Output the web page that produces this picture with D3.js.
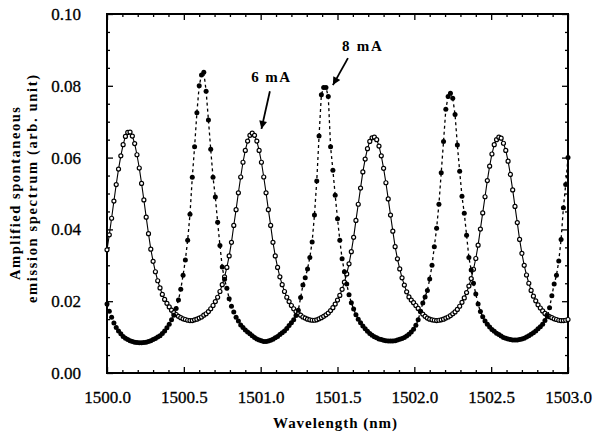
<!DOCTYPE html>
<html><head><meta charset="utf-8">
<script src="https://cdn.jsdelivr.net/npm/d3@7/dist/d3.min.js"></script>
<style>body{margin:0;background:#fff}svg{display:block}</style>
</head><body>
<svg id="chart" width="597" height="435"></svg>
<script>
// ---- data (wavelength grid: start + index * step, in nm) ----
const wlStart = 1500.0;
const wlStep = 0.015;

// 6 mA : open circles, solid line
const open6mA = [
0.0343,0.0385,0.0431,0.0479,0.0525,0.0568,0.0605,0.0636,0.0659,0.0670,
0.0671,0.0660,0.0639,0.0608,0.0571,0.0528,0.0482,0.0434,0.0388,0.0345,
0.0311,0.0282,0.0257,0.0237,0.0219,0.0205,0.0194,0.0184,0.0175,0.0168,
0.0163,0.0158,0.0154,0.0151,0.0149,0.0147,0.0146,0.0146,0.0148,0.0150,
0.0153,0.0156,0.0161,0.0165,0.0171,0.0179,0.0188,0.0199,0.0211,0.0227,
0.0246,0.0268,0.0294,0.0326,0.0364,0.0411,0.0455,0.0502,0.0546,0.0587,
0.0620,0.0646,0.0662,0.0668,0.0662,0.0646,0.0620,0.0587,0.0546,0.0502,
0.0455,0.0411,0.0364,0.0326,0.0294,0.0268,0.0246,0.0227,0.0211,0.0199,
0.0188,0.0179,0.0171,0.0165,0.0161,0.0156,0.0153,0.0150,0.0148,0.0147,
0.0147,0.0148,0.0151,0.0154,0.0158,0.0162,0.0167,0.0174,0.0182,0.0192,
0.0203,0.0216,0.0233,0.0253,0.0276,0.0304,0.0338,0.0378,0.0425,0.0470,
0.0515,0.0560,0.0596,0.0625,0.0645,0.0655,0.0657,0.0650,0.0632,0.0605,
0.0570,0.0530,0.0485,0.0440,0.0395,0.0352,0.0318,0.0290,0.0265,0.0245,
0.0226,0.0212,0.0203,0.0196,0.0188,0.0180,0.0171,0.0164,0.0158,0.0153,
0.0150,0.0148,0.0147,0.0146,0.0147,0.0148,0.0150,0.0153,0.0156,0.0160,
0.0165,0.0170,0.0177,0.0186,0.0197,0.0209,0.0224,0.0242,0.0263,0.0289,
0.0319,0.0356,0.0401,0.0446,0.0491,0.0536,0.0576,0.0610,0.0636,0.0650,
0.0657,0.0654,0.0640,0.0620,0.0590,0.0553,0.0510,0.0464,0.0419,0.0372,
0.0333,0.0300,0.0273,0.0250,0.0230,0.0214,0.0201,0.0190,0.0181,0.0173,
0.0166,0.0161,0.0157,0.0154,0.0151,0.0149,0.0147,0.0146,0.0146,0.0147,
0.0149
];

// 8 mA : filled circles, dashed line
const filled8mA = [
0.0192,0.0172,0.0155,0.0139,0.0127,0.0117,0.0109,0.0102,0.0097,0.0093,
0.0090,0.0088,0.0086,0.0085,0.0084,0.0084,0.0085,0.0086,0.0088,0.0090,
0.0093,0.0096,0.0100,0.0104,0.0110,0.0117,0.0126,0.0136,0.0148,0.0161,
0.0180,0.0203,0.0233,0.0272,0.0315,0.0370,0.0442,0.0545,0.0630,0.0725,
0.0800,0.0830,0.0838,0.0785,0.0705,0.0623,0.0545,0.0490,0.0420,0.0355,
0.0295,0.0261,0.0236,0.0207,0.0186,0.0170,0.0155,0.0145,0.0134,0.0127,
0.0120,0.0114,0.0109,0.0104,0.0099,0.0095,0.0092,0.0090,0.0088,0.0088,
0.0089,0.0091,0.0094,0.0098,0.0102,0.0107,0.0112,0.0117,0.0124,0.0132,
0.0140,0.0148,0.0160,0.0175,0.0210,0.0245,0.0265,0.0290,0.0322,0.0365,
0.0440,0.0535,0.0660,0.0775,0.0795,0.0795,0.0770,0.0630,0.0565,0.0495,
0.0430,0.0370,0.0318,0.0282,0.0248,0.0218,0.0196,0.0178,0.0162,0.0150,
0.0140,0.0131,0.0123,0.0116,0.0110,0.0105,0.0101,0.0098,0.0095,0.0093,
0.0091,0.0090,0.0089,0.0089,0.0089,0.0090,0.0092,0.0094,0.0096,0.0099,
0.0103,0.0108,0.0114,0.0122,0.0133,0.0148,0.0172,0.0195,0.0212,0.0230,
0.0262,0.0300,0.0352,0.0403,0.0470,0.0558,0.0645,0.0735,0.0770,0.0779,
0.0765,0.0720,0.0635,0.0562,0.0492,0.0445,0.0384,0.0322,0.0287,0.0250,
0.0220,0.0192,0.0171,0.0157,0.0145,0.0136,0.0128,0.0121,0.0116,0.0111,
0.0107,0.0103,0.0099,0.0097,0.0095,0.0093,0.0092,0.0092,0.0092,0.0093,
0.0095,0.0097,0.0100,0.0104,0.0108,0.0112,0.0117,0.0123,0.0129,0.0136,
0.0146,0.0158,0.0182,0.0215,0.0248,0.0272,0.0312,0.0372,0.0460,0.0525,
0.0600
];

const xTickValues = [1500.0, 1500.5, 1501.0, 1501.5, 1502.0, 1502.5, 1503.0];
const yTickValues = [0.00, 0.02, 0.04, 0.06, 0.08, 0.10];
const xTitle = "Wavelength  (nm)";
const yTitleLines = ["Amplified spontaneous", "emission spectrum (arb. unit)"];
const labels = ["6  mA", "8  mA"];

// ---- layout ----
const svg = d3.select("#chart");
const L = 107, R = 568, T = 14, B = 373;
const x = d3.scaleLinear().domain([1500, 1503]).range([L, R]);
const y = d3.scaleLinear().domain([0, 0.10]).range([B, T]);
const wl = i => wlStart + i * wlStep;
const serif = "'Liberation Serif','Times New Roman',serif";

// minor tick values
const xMinor = d3.range(0, 31).map(k => 1500 + k * 0.1).filter(v => Math.abs(((v - 1500) / 0.5) - Math.round((v - 1500) / 0.5)) > 1e-6);
const yMinor = d3.range(0, 21).map(k => k * 0.005).filter(v => Math.abs(v / 0.02 - Math.round(v / 0.02)) > 1e-6);

function styleAxis(g) {
  g.select(".domain").remove();
  g.selectAll("line").attr("stroke", "#000").attr("stroke-width", 1.3);
  g.selectAll("text").attr("font-family", serif).attr("font-size", 17).attr("fill", "#000")
    .attr("stroke", "#000").attr("stroke-width", 0.3);
}

// bottom
svg.append("g").attr("transform", `translate(0,${B})`)
  .call(d3.axisBottom(x).tickValues(xTickValues).tickSizeInner(-6).tickSizeOuter(0).tickPadding(18).tickFormat(d3.format(".1f")))
  .call(styleAxis);
svg.append("g").attr("transform", `translate(0,${B})`)
  .call(d3.axisBottom(x).tickValues(xMinor).tickSizeInner(-3).tickSizeOuter(0).tickFormat(""))
  .call(styleAxis);
// top
svg.append("g").attr("transform", `translate(0,${T})`)
  .call(d3.axisTop(x).tickValues(xTickValues).tickSizeInner(-6).tickSizeOuter(0).tickFormat(""))
  .call(styleAxis);
svg.append("g").attr("transform", `translate(0,${T})`)
  .call(d3.axisTop(x).tickValues(xMinor).tickSizeInner(-3).tickSizeOuter(0).tickFormat(""))
  .call(styleAxis);
// left
svg.append("g").attr("transform", `translate(${L},0)`)
  .call(d3.axisLeft(y).tickValues(yTickValues).tickSizeInner(-6).tickSizeOuter(0).tickPadding(26).tickFormat(d3.format(".2f")))
  .call(styleAxis);
svg.append("g").attr("transform", `translate(${L},0)`)
  .call(d3.axisLeft(y).tickValues(yMinor).tickSizeInner(-3).tickSizeOuter(0).tickFormat(""))
  .call(styleAxis);
// right
svg.append("g").attr("transform", `translate(${R},0)`)
  .call(d3.axisRight(y).tickValues(yTickValues).tickSizeInner(-6).tickSizeOuter(0).tickFormat(""))
  .call(styleAxis);
svg.append("g").attr("transform", `translate(${R},0)`)
  .call(d3.axisRight(y).tickValues(yMinor).tickSizeInner(-3).tickSizeOuter(0).tickFormat(""))
  .call(styleAxis);

// frame
svg.append("rect").attr("x", L).attr("y", T).attr("width", R - L).attr("height", B - T)
  .attr("fill", "none").attr("stroke", "#000").attr("stroke-width", 2);

// titles
svg.append("text").attr("x", 335).attr("y", 428).attr("text-anchor", "middle")
  .attr("font-family", serif).attr("font-weight", "bold").attr("font-size", 15)
  .attr("textLength", 124).attr("lengthAdjust", "spacing").text(xTitle);
const yTitlePos = [{bx: 20, cy: 193.5, len: 173}, {bx: 37, cy: 189, len: 228}];
yTitleLines.forEach((t, k) => {
  svg.append("text")
    .attr("transform", `translate(${yTitlePos[k].bx},${yTitlePos[k].cy}) rotate(-90)`)
    .attr("text-anchor", "middle")
    .attr("font-family", serif).attr("font-weight", "bold").attr("font-size", 14.5)
    .attr("textLength", yTitlePos[k].len).attr("lengthAdjust", "spacing").text(t);
});

// series
const line = d3.line().x((d, i) => x(wl(i))).y(d => y(d));
svg.append("path").datum(open6mA).attr("d", line)
  .attr("fill", "none").attr("stroke", "#000").attr("stroke-width", 1.1);
svg.append("path").datum(filled8mA).attr("d", line)
  .attr("fill", "none").attr("stroke", "#000").attr("stroke-width", 1.3).attr("stroke-dasharray", "3,3");

svg.append("g").selectAll("circle").data(open6mA).join("circle")
  .attr("cx", (d, i) => x(wl(i))).attr("cy", d => y(d)).attr("r", 2.0)
  .attr("fill", "#fff").attr("stroke", "#000").attr("stroke-width", 1.2);
svg.append("g").selectAll("circle").data(filled8mA).join("circle")
  .attr("cx", (d, i) => x(wl(i))).attr("cy", d => y(d)).attr("r", 2.5)
  .attr("fill", "#000");

// annotations (placed in data coordinates)
svg.append("defs").append("marker").attr("id", "ah")
  .attr("viewBox", "0 0 10 10").attr("refX", 10).attr("refY", 5)
  .attr("markerWidth", 11).attr("markerHeight", 8).attr("markerUnits", "userSpaceOnUse")
  .attr("orient", "auto").append("path").attr("d", "M0,0 L10,5 L0,10 Z").attr("fill", "#000");

const ann = [
  {text: labels[0], tx: 1500.938, ty: 0.0811, len: 39, ax1: 1501.060, ay1: 0.0785, ax2: 1501.005, ay2: 0.0680},
  {text: labels[1], tx: 1501.529, ty: 0.0897, len: 40, ax1: 1501.568, ay1: 0.0877, ax2: 1501.470, ay2: 0.0802}
];
ann.forEach(a => {
  svg.append("text").attr("x", x(a.tx)).attr("y", y(a.ty))
    .attr("font-family", serif).attr("font-weight", "bold").attr("font-size", 15)
    .attr("textLength", a.len).attr("lengthAdjust", "spacing").text(a.text);
  svg.append("line").attr("x1", x(a.ax1)).attr("y1", y(a.ay1)).attr("x2", x(a.ax2)).attr("y2", y(a.ay2))
    .attr("stroke", "#000").attr("stroke-width", 1.8).attr("marker-end", "url(#ah)");
});
</script>
</body></html>
